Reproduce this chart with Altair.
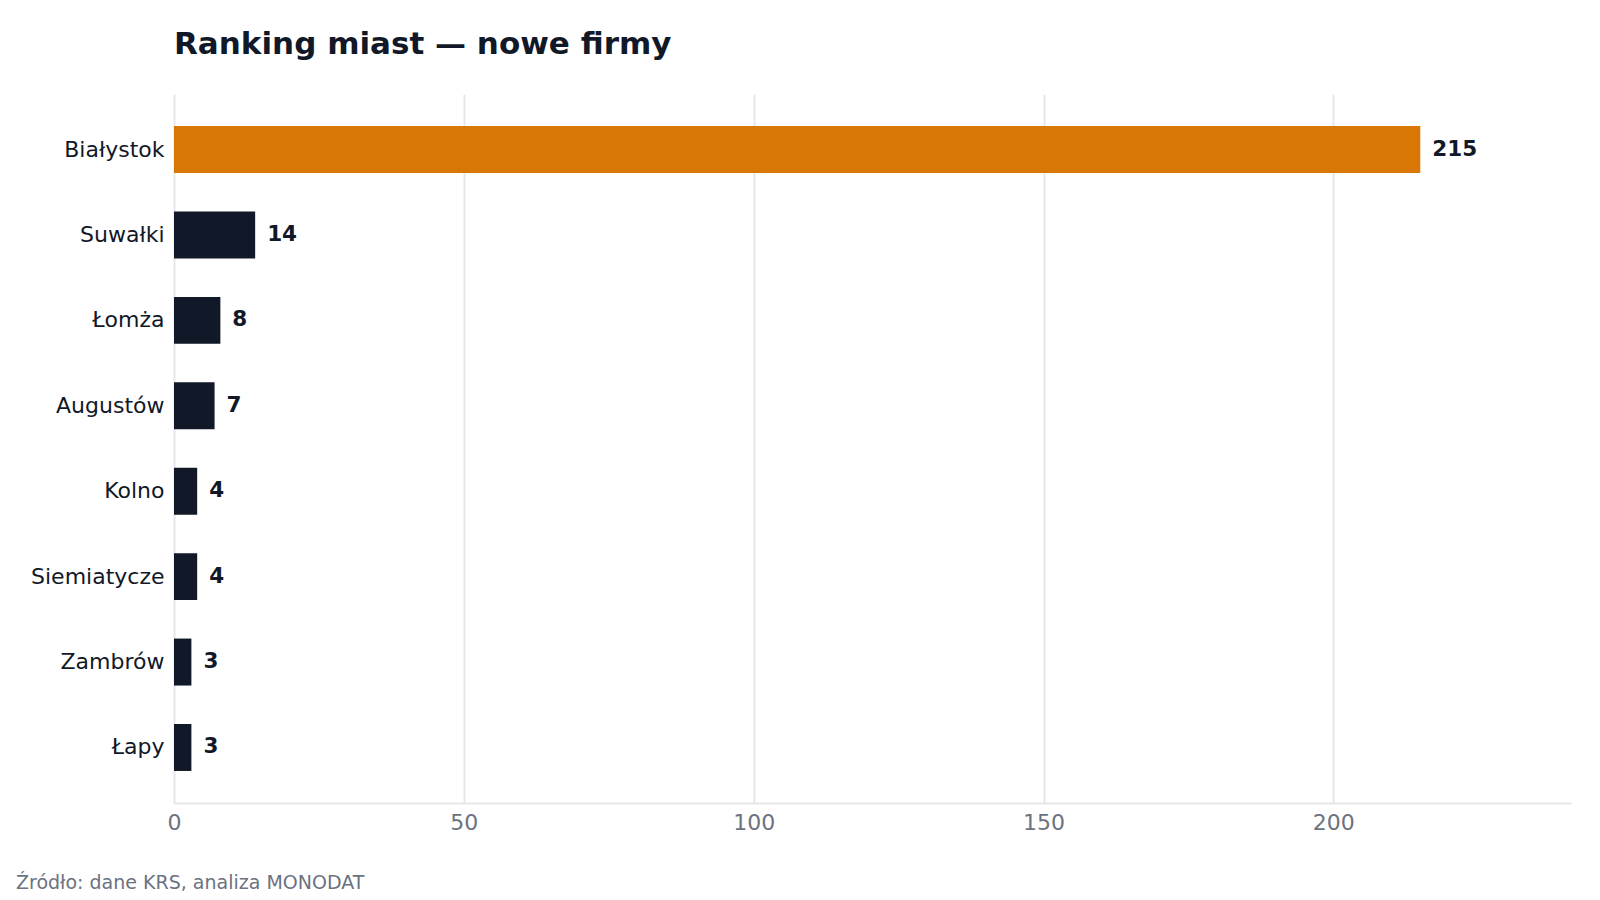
import altair as alt
import pandas as pd

cities = ["Białystok", "Suwałki", "Łomża", "Augustów", "Kolno", "Siemiatycze", "Zambrów", "Łapy"]
counts = [215, 14, 8, 7, 4, 4, 3, 3]
highlight = ["Białystok"]
title_text = "Ranking miast — nowe firmy"
source_text = "Źródło: dane KRS, analiza MONODAT"

df = pd.DataFrame({"city": cities, "count": counts})
df["hl"] = df["city"].isin(highlight)

FONT = "DejaVu Sans"
W, H = 1397, 709

y_enc = alt.Y("city:N", sort=cities, title=None,
              scale=alt.Scale(paddingInner=0.45, paddingOuter=0.375),
              axis=alt.Axis(labelFontSize=22, labelColor="#111827", labelFont=FONT,
                            labelPadding=10, ticks=False, domain=False, grid=False))
x_enc = alt.X("count:Q", title=None,
              scale=alt.Scale(domain=[0, 241], nice=False, zero=True),
              axis=alt.Axis(values=[0, 50, 100, 150, 200], labelFontSize=22,
                            labelColor="#6b7280", labelFont=FONT, labelPadding=9,
                            ticks=False, domainColor="#e5e7eb", domainWidth=2,
                            gridColor="#e5e7eb", gridWidth=2, labelFlush=False))

bars = alt.Chart(df).mark_bar().encode(
    y=y_enc, x=x_enc,
    color=alt.condition("datum.hl", alt.value("#d97706"), alt.value("#111827")),
)

labels = alt.Chart(df).mark_text(align="left", baseline="middle", dx=12,
                                 fontSize=21.5, fontWeight="bold", font=FONT,
                                 color="#111827").encode(
    y=alt.Y("city:N", sort=cities), x="count:Q", text="count:Q")

footer = alt.Chart(pd.DataFrame({"t": [source_text]})).mark_text(
    align="left", baseline="alphabetic", fontSize=19, font=FONT, color="#6b7280"
).encode(x=alt.value(-158), y=alt.value(H + 86), text="t:N")

chart = alt.layer(bars, labels, footer).properties(
    width=W, height=H,
    title=alt.TitleParams(title_text, anchor="start", frame="group", fontSize=31,
                          fontWeight="bold", font=FONT, color="#111827", offset=33),
    padding={"left": 8, "top": 21, "right": 10, "bottom": 0},
).configure(background="white").configure_view(stroke=None, strokeWidth=0)

chart.save("out.html", embed_options={"renderer": "svg", "actions": False})
